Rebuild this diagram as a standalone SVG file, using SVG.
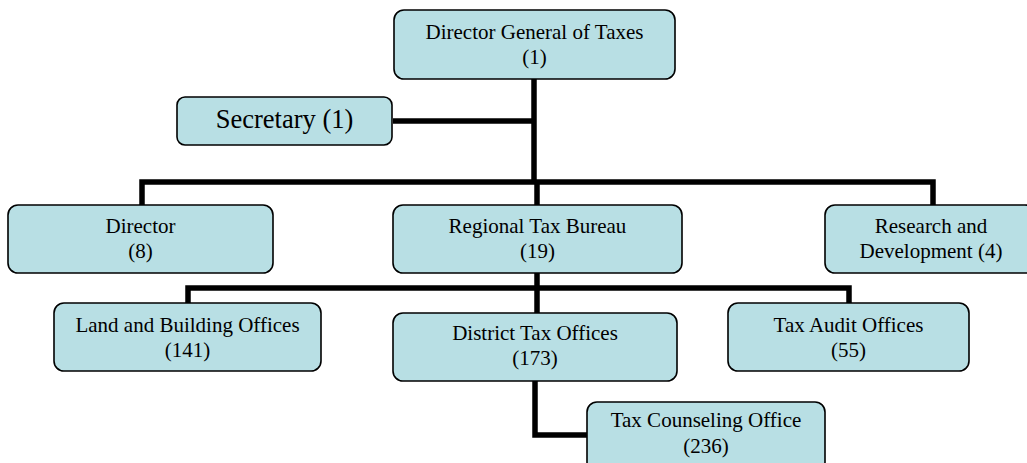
<svg xmlns="http://www.w3.org/2000/svg" width="1027" height="463" viewBox="0 0 1027 463" font-family="Liberation Serif">
<style>
.box{fill:#b8dfe4;stroke:#000;stroke-width:1.6}
.t{font-size:21px;fill:#000;text-anchor:middle}
.big{font-size:26.5px}
.c{fill:none;stroke:#000;stroke-width:5.5;stroke-linejoin:miter}
</style>
<rect width="1027" height="463" fill="#fff"/>
<g id="connectors">
<path class="c" d="M534 79 V182"/>
<path class="c" d="M393 121 H534"/>
<path class="c" d="M142 205 V182 H933 V205"/>
<path class="c" d="M537 182 V205"/>
<path class="c" d="M537 273 V313"/>
<path class="c" d="M188 303 V288 H849 V303"/>
<path class="c" d="M535 381 V435 H587"/>
</g>
<g id="dg">
<rect class="box" x="394" y="10" width="281" height="69" rx="10"/>
<text class="t" x="534.5" y="39">Director General of Taxes</text>
<text class="t" x="534.5" y="64">(1)</text>
</g>
<g id="secretary">
<rect class="box" x="177" y="97" width="215" height="48" rx="8"/>
<text class="t big" x="284.5" y="128">Secretary (1)</text>
</g>
<g id="director">
<rect class="box" x="8" y="205" width="265" height="68" rx="10"/>
<text class="t" x="140.5" y="233">Director</text>
<text class="t" x="140.5" y="258">(8)</text>
</g>
<g id="regional">
<rect class="box" x="393" y="205" width="289" height="68" rx="10"/>
<text class="t" x="537.5" y="233">Regional Tax Bureau</text>
<text class="t" x="537.5" y="258">(19)</text>
</g>
<g id="rnd">
<rect class="box" x="825" y="205" width="210" height="68" rx="10"/>
<text class="t" x="931" y="233">Research and</text>
<text class="t" x="931" y="258">Development (4)</text>
</g>
<g id="land">
<rect class="box" x="54" y="303" width="267" height="68" rx="10"/>
<text class="t" x="187.5" y="332">Land and Building Offices</text>
<text class="t" x="187.5" y="357">(141)</text>
</g>
<g id="district">
<rect class="box" x="393" y="313" width="284" height="68" rx="10"/>
<text class="t" x="535" y="340">District Tax Offices</text>
<text class="t" x="535" y="365">(173)</text>
</g>
<g id="audit">
<rect class="box" x="728" y="303" width="241" height="68" rx="10"/>
<text class="t" x="848.5" y="332">Tax Audit Offices</text>
<text class="t" x="848.5" y="357">(55)</text>
</g>
<g id="counseling">
<rect class="box" x="587" y="402" width="238" height="70" rx="10"/>
<text class="t" x="706" y="427">Tax Counseling Office</text>
<text class="t" x="706" y="453">(236)</text>
</g>
</svg>
